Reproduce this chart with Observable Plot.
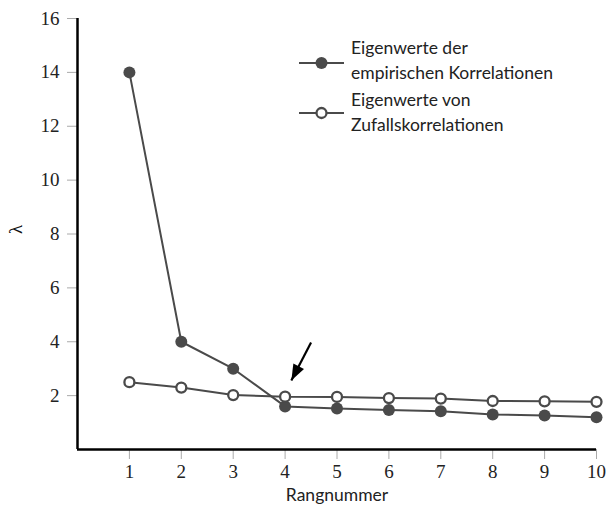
<!DOCTYPE html>
<html><head><meta charset="utf-8">
<script src="https://cdn.jsdelivr.net/npm/d3@7"></script>
<script src="https://cdn.jsdelivr.net/npm/@observablehq/plot@0.6"></script>
<style>
body{margin:0;background:#fff;}
#wrap{position:relative;width:609px;height:510px;}
.lg-sym{position:absolute;}
.lg-txt{position:absolute;font-family:Lato,"Open Sans",sans-serif;font-size:17.5px;line-height:24.5px;color:#222;white-space:nowrap;}
</style></head><body>
<div id="wrap"></div>
<script>
const ranks = [1, 2, 3, 4, 5, 6, 7, 8, 9, 10];
const empirical = [14, 4, 3, 1.6, 1.52, 1.47, 1.42, 1.3, 1.26, 1.2];
const randomEv = [2.5, 2.3, 2.02, 1.96, 1.95, 1.91, 1.89, 1.8, 1.79, 1.77];
const yTicks = [2, 4, 6, 8, 10, 12, 14, 16];
const xTicks = [1, 2, 3, 4, 5, 6, 7, 8, 9, 10];
const seriesLabels = [["Eigenwerte der", "empirischen Korrelationen"], ["Eigenwerte von", "Zufallskorrelationen"]];
const xLabel = "Rangnummer";
const yLabel = "λ";
const arrowAnnotation = [{x1: 4.5, y1: 3.97, x2: 4.12, y2: 2.56}];

const data = ranks.map((r, i) => ({rank: r, emp: empirical[i], rnd: randomEv[i]}));
const lineColor = "#4a4a4a";

const chart = Plot.plot({
  width: 609, height: 510,
  marginTop: 18, marginBottom: 61, marginLeft: 77, marginRight: 13,
  style: {fontFamily: "'Liberation Serif', serif", fontSize: "19px", color: "#222", background: "#fff"},
  x: {domain: [0, 10], axis: null},
  y: {domain: [0, 16], axis: null},
  marks: [
    Plot.axisY(yTicks, {tickSize: 10, tickPadding: 8, stroke: "#aaa", fill: "#222", fontSize: 19, label: null}),
    Plot.axisX(xTicks, {tickSize: 10, tickPadding: 5, stroke: "#aaa", fill: "#222", fontSize: 19, label: null}),
    Plot.ruleX([0], {y1: 0, y2: 16, stroke: "black", strokeWidth: 2.5}),
    Plot.ruleY([0], {x1: 0, x2: 10, stroke: "black", strokeWidth: 2.5}),
    Plot.line(data, {x: "rank", y: "emp", stroke: lineColor, strokeWidth: 2}),
    Plot.line(data, {x: "rank", y: "rnd", stroke: lineColor, strokeWidth: 2}),
    Plot.dot(data, {x: "rank", y: "emp", r: 6, fill: lineColor, stroke: "none"}),
    Plot.dot(data, {x: "rank", y: "rnd", r: 5, fill: "white", stroke: lineColor, strokeWidth: 2.3}),
    Plot.link(arrowAnnotation, {x1: "x1", y1: "y1", x2: "x2", y2: "y2", stroke: "black", strokeWidth: 2.2}),
    Plot.text([yLabel], {frameAnchor: "left", dx: -62, rotate: -90, fontSize: 19, fill: "#111"}),
    Plot.text([xLabel], {frameAnchor: "bottom", dy: 51, fontFamily: "Lato, 'Open Sans', sans-serif", fontSize: 17.5, fill: "#222"})
  ]
});

// filled arrow head
const svg = d3.select(chart);
const defs = svg.insert("defs", ":first-child");
defs.append("marker")
  .attr("id", "ahead").attr("markerUnits", "userSpaceOnUse")
  .attr("viewBox", "-16 -8 20 16").attr("markerWidth", 20).attr("markerHeight", 16)
  .attr("refX", 2).attr("refY", 0).attr("orient", "auto")
  .append("path").attr("d", "M-14,-6L2,0L-14,6Z").attr("fill", "black");
svg.selectAll('g[aria-label="link"] path').attr("marker-end", "url(#ahead)");

const wrap = document.getElementById("wrap");
wrap.appendChild(chart);

// legend
const legendItems = [
  {sym: "filled", top: 63, textTop: 36, lines: seriesLabels[0]},
  {sym: "open", top: 113, textTop: 88, lines: seriesLabels[1]}
];
for (const it of legendItems) {
  const s = d3.select(wrap).append("svg").attr("class", "lg-sym")
    .attr("width", 50).attr("height", 20)
    .style("left", "297px").style("top", (it.top - 10) + "px");
  s.append("line").attr("x1", 2).attr("x2", 47).attr("y1", 10).attr("y2", 10).attr("stroke", lineColor).attr("stroke-width", 2);
  if (it.sym === "filled") s.append("circle").attr("cx", 24.5).attr("cy", 10).attr("r", 6).attr("fill", lineColor);
  else s.append("circle").attr("cx", 24.5).attr("cy", 10).attr("r", 5).attr("fill", "white").attr("stroke", lineColor).attr("stroke-width", 2.3);
  const t = d3.select(wrap).append("div").attr("class", "lg-txt")
    .style("left", "351px").style("top", it.textTop + "px");
  t.html(it.lines.join("<br>"));
}
</script>
</body></html>
